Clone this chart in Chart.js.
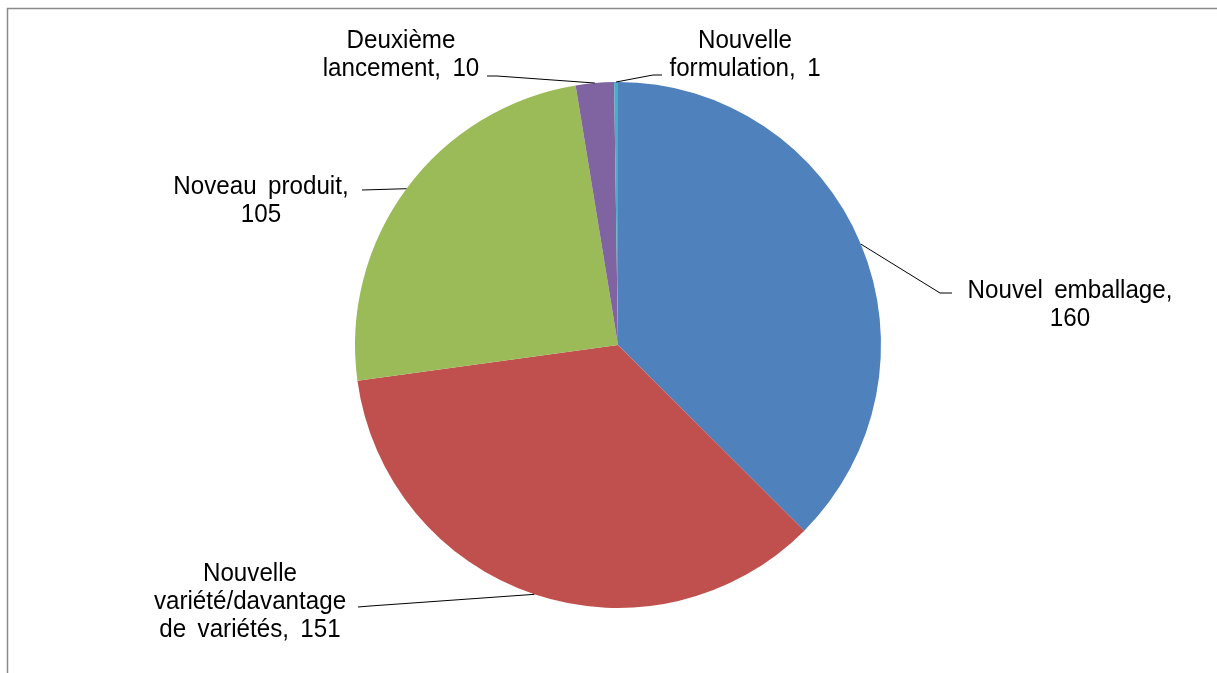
<!DOCTYPE html>
<html>
<head>
<meta charset="utf-8">
<script src="https://cdn.jsdelivr.net/npm/chart.js@4.4.0/dist/chart.umd.min.js"></script>
<style>
  html, body { margin: 0; padding: 0; background: #ffffff; }
  #wrap { position: relative; width: 1217px; height: 673px; overflow: hidden; }
</style>
</head>
<body>
<div id="wrap"><canvas id="pieChart" width="1217" height="673"></canvas></div>
<script>
// --- chart data ---
const categories = [
    'Nouvel emballage',
    'Nouvelle variété/davantage de variétés',
    'Noveau produit',
    'Deuxième lancement',
    'Nouvelle formulation'
];
const values = [160, 151, 105, 10, 1];
const sliceColors = ['#4F81BD', '#C0504D', '#9BBB59', '#8064A2', '#4BACC6'];

// --- label layout (offsets from pie centre, in px) ---
// words per line, text centre, first line y, leader path points
const labelLayout = [
    { words: [2, 1],    cx: 452,  y0: -54,  path: [[322, -52], [334, -52]] },
    { words: [1, 1, 3], cx: -368, y0: 229,  path: [[-248, 261], [-260, 262]] },
    { words: [2, 1],    cx: -357, y0: -158, path: [[-256, -155]] },
    { words: [1, 2],    cx: -217, y0: -304, path: [[-121, -269], [-131, -269]] },
    { words: [1, 2],    cx: 127,  y0: -304, path: [[35, -270], [44, -270]] }
];
const LINE_HEIGHT = 28;

// split "Name, value" into the lines shown next to each slice
function buildLines(i) {
    const parts = (categories[i] + ', ' + values[i]).split(' ');
    const lines = [];
    let k = 0;
    labelLayout[i].words.forEach(n => {
        lines.push(parts.slice(k, k + n).join(' '));
        k += n;
    });
    return lines;
}

// grey frame around the chart area
const framePlugin = {
    id: 'frame',
    beforeDraw(chart) {
        const ctx = chart.ctx;
        ctx.save();
        ctx.strokeStyle = '#8a8a8a';
        ctx.lineWidth = 1.5;
        ctx.strokeRect(7.5, 8.5, 1500, 1000);
        ctx.restore();
    }
};

// data labels with leader lines
const labelPlugin = {
    id: 'pieLabels',
    afterDatasetsDraw(chart) {
        const ctx = chart.ctx;
        const arcs = chart.getDatasetMeta(0).data;
        ctx.save();
        arcs.forEach((arc, i) => {
            const p = arc.getProps(['x', 'y', 'startAngle', 'endAngle', 'outerRadius'], true);
            const mid = (p.startAngle + p.endAngle) / 2;
            const lay = labelLayout[i];

            // leader line from slice edge to the label
            ctx.beginPath();
            ctx.strokeStyle = '#000000';
            ctx.lineWidth = 1;
            ctx.moveTo(p.x + Math.cos(mid) * p.outerRadius, p.y + Math.sin(mid) * p.outerRadius);
            lay.path.forEach(pt => ctx.lineTo(p.x + pt[0], p.y + pt[1]));
            ctx.stroke();

            // label text (slightly narrow, like the original)
            ctx.fillStyle = '#000000';
            ctx.font = '26px "Liberation Sans", Arial, sans-serif';
            if ('wordSpacing' in ctx) ctx.wordSpacing = '5px';
            ctx.textAlign = 'center';
            ctx.textBaseline = 'middle';
            buildLines(i).forEach((line, j) => {
                ctx.save();
                ctx.translate(p.x + lay.cx, p.y + lay.y0 + j * LINE_HEIGHT);
                ctx.scale(0.93, 1);
                ctx.fillText(line, 0, 0);
                ctx.restore();
            });
        });
        ctx.restore();
    }
};

new Chart(document.getElementById('pieChart'), {
    type: 'pie',
    data: {
        labels: categories,
        datasets: [{
            data: values,
            backgroundColor: sliceColors,
            borderWidth: 0
        }]
    },
    options: {
        responsive: false,
        animation: false,
        layout: {
            padding: { left: 355, right: 336, top: 82, bottom: 65 }
        },
        plugins: {
            legend: { display: false },
            tooltip: { enabled: false }
        }
    },
    plugins: [framePlugin, labelPlugin]
});
</script>
</body>
</html>
